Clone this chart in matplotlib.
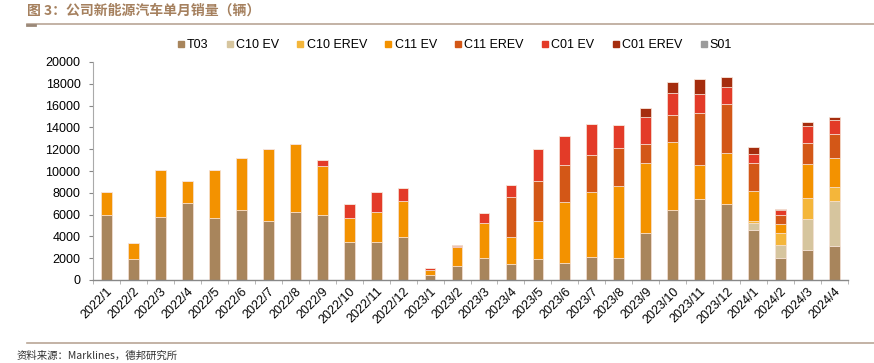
import numpy as np
import matplotlib.pyplot as plt
from matplotlib.lines import Line2D

# ============================================================
# DATA (monthly sales, vehicles)
# ============================================================

MONTHS = ["2022/1", "2022/2", "2022/3", "2022/4", "2022/5", "2022/6", "2022/7",
          "2022/8", "2022/9", "2022/10", "2022/11", "2022/12",
          "2023/1", "2023/2", "2023/3", "2023/4", "2023/5", "2023/6", "2023/7",
          "2023/8", "2023/9", "2023/10", "2023/11", "2023/12",
          "2024/1", "2024/2", "2024/3", "2024/4"]

t03 = [6000, 1900, 5800, 7100, 5700, 6400, 5450, 6200, 6000, 3500, 3500, 3900,
       500, 1300, 2050, 1450, 1950, 1600, 2150, 2050, 4350, 6400, 7450, 7000,
       4550, 2000, 2750, 3150]
c10_ev = [0] * 24 + [650, 1250, 2850, 4100]
c10_erev = [0] * 24 + [180, 1050, 1900, 1320]
c11_ev = [2100, 1520, 4250, 1950, 4350, 4820, 6550, 6280, 4450, 2190, 2760, 3340,
          420, 1730, 3180, 2460, 3460, 5550, 5950, 6570, 6350, 6250, 3120, 4620,
          2750, 820, 3150, 2630]
c11_erev = [0] * 15 + [3670, 3640, 3360, 3330, 3460, 1740, 2450, 4720, 4490,
                       2630, 800, 1950, 2170]
c01_ev = [0, 0, 0, 0, 0, 0, 0, 0, 550, 1310, 1780, 1170,
          180, 90, 880, 1100, 2960, 2670, 2870, 2100, 2480, 2020, 1770, 1590,
          830, 460, 1500, 1310]
c01_erev = [0] * 13 + [50, 0, 0, 0, 0, 0, 0, 850, 1040, 1400, 890,
                       640, 150, 430, 310]
s01 = [0] * 28

SERIES = ["T03", "C10 EV", "C10 EREV", "C11 EV", "C11 EREV", "C01 EV", "C01 EREV", "S01"]
VALUES = [t03, c10_ev, c10_erev, c11_ev, c11_erev, c01_ev, c01_erev, s01]
COLORS = ["#a8855c", "#d6c59e", "#f4b63a", "#f39200", "#d35717", "#e33b28", "#a52d0e", "#9b9b9b"]

TITLE = "图 3：公司新能源汽车单月销量（辆）"
SOURCE = "资料来源：Marklines，德邦研究所"

# ============================================================
# PLOTTING
# ============================================================

plt.rcParams['font.family'] = ['Liberation Sans', 'Noto Sans CJK SC', 'DejaVu Sans']

fig = plt.figure(figsize=(8.74, 3.63), dpi=100)
ax = fig.add_axes([93 / 874, 1 - 280 / 363, (848 - 93) / 874, (280 - 62) / 363])

x = np.arange(len(MONTHS))
bottom = np.zeros(len(MONTHS))
for name, vals, col in zip(SERIES, VALUES, COLORS):
    vals = np.array(vals, dtype=float)
    ax.bar(x, vals, width=0.4, bottom=bottom, color=col, label=name,
           edgecolor="#f6e2d6", linewidth=0.5)
    bottom += vals

ax.set_xlim(-0.5, len(MONTHS) - 0.5)
ax.set_ylim(0, 20000)
ax.set_yticks(np.arange(0, 20001, 2000))
ax.tick_params(axis='y', labelsize=9, length=3, color="#888888", pad=6)

# category ticks sit between the bars, labels under the bars
ax.set_xticks(x)
ax.set_xticklabels(MONTHS, rotation=45, ha='right', rotation_mode='anchor', fontsize=9)
ax.tick_params(axis='x', length=0, pad=4)
ax.set_xticks(np.arange(-0.5, len(MONTHS), 1), minor=True)
ax.tick_params(axis='x', which='minor', length=3, color="#aaaaaa")

for side in ['top', 'right']:
    ax.spines[side].set_visible(False)
ax.spines['left'].set_color("#aaaaaa")
ax.spines['bottom'].set_color("#888888")
ax.spines['bottom'].set_linewidth(1.0)

handles = [Line2D([], [], marker='s', linestyle='', markersize=4.5,
                  markerfacecolor=c, markeredgecolor=c) for c in COLORS]
fig.legend(handles, SERIES, loc='center', bbox_to_anchor=(454 / 874, 1 - 45 / 363),
           ncol=8, frameon=False, fontsize=9, handletextpad=0.1,
           columnspacing=1.3, handlelength=0.8)

# header and footer
fig.text(27 / 874, 1 - 11 / 363, TITLE, fontsize=10, color="#a5805e",
         fontweight='bold', va='center', family=['Noto Sans CJK SC', 'DejaVu Sans'])
fig.add_artist(Line2D([27 / 874, 1], [1 - 24 / 363] * 2, color="#b9a696", lw=1.2))
fig.add_artist(Line2D([27 / 874, 35 / 874], [1 - 25 / 363] * 2, color="#9a8878", lw=2))
fig.add_artist(Line2D([27 / 874, 1], [1 - 343 / 363] * 2, color="#b9a696", lw=1.2))
fig.text(17 / 874, 1 - 356 / 363, SOURCE, fontsize=7.5, color="#333333", va='center',
         family=['Noto Sans CJK SC', 'DejaVu Sans'])

fig.savefig("out.png", dpi=100)
